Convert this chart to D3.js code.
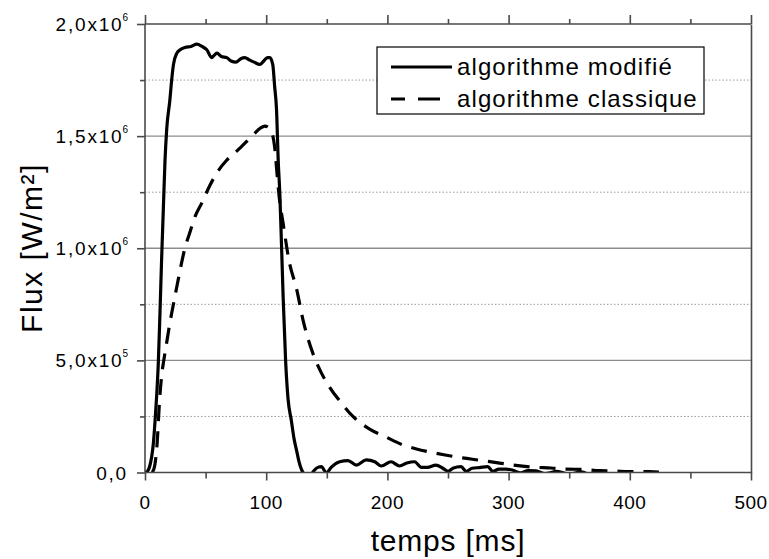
<!DOCTYPE html>
<html><head><meta charset="utf-8">
<script src="https://cdn.jsdelivr.net/npm/d3@7"></script>
<style>body{margin:0;background:#fff}svg{display:block}text{font-family:"Liberation Sans",Arial,sans-serif;fill:#000}</style>
</head><body>
<svg id="c" width="769" height="559"></svg>
<script>
// ---- data ----
const modifieT = [0,2,4,5.5,6.9,8.3,9.6,11,12.4,13.7,15.1,16.5,17.9,20.5,22,23.5,26.3,29,33,38,42.8,47,51,55,57,59.3,63,67.5,71,75,79,82.4,86,90,94.7,98,101,103,105.4,107,108.5,110,111.2,112.6,114,116,118,120.8,123,125,127,129,131,133,136,138,141.4,145.5,149.7,153.8,160.6,167.5,174.4,182.6,189.5,195,203,210,216,222.4,228,233,240,245.7,250,254,260.8,265,270,276,282.8,287,292,298,303,310,316,322.6,330,340,350,360,370,380,420];
const modifieV = [0,5e3,3e4,7e4,1.3e5,2.3e5,3.4e5,4.9e5,7.2e5,9.5e5,1.17e6,1.39e6,1.53e6,1.66e6,1.75e6,1.82e6,1.87e6,1.885e6,1.895e6,1.9e6,1.91e6,1.9e6,1.885e6,1.85e6,1.86e6,1.87e6,1.855e6,1.85e6,1.835e6,1.83e6,1.845e6,1.85e6,1.84e6,1.83e6,1.82e6,1.835e6,1.85e6,1.85e6,1.82e6,1.72e6,1.62e6,1.38e6,1.25e6,1.02e6,7.8e5,5e5,3.3e5,2.3e5,1.5e5,1e5,5e4,1.5e4,-5e3,-1.5e4,-1.5e4,-2e3,1.9e4,2.6e4,-2e3,2.4e4,4.8e4,5.3e4,3.3e4,5.6e4,4.8e4,2.9e4,4.8e4,2.9e4,4.2e4,4.8e4,2.3e4,2.3e4,3.3e4,1.9e4,5e3,1.9e4,2.6e4,5e3,1.9e4,2.2e4,2.6e4,5e3,1.5e4,1.5e4,1.1e4,-2e3,8e3,7e3,-5e3,5e3,-8e3,3e3,-1.5e4,-1.5e4,-1.5e4];
const classiqueT = [6,8,10,12,13.7,15.5,17.9,20,22,24.7,27.4,30,32.9,37,41.2,46.7,53.5,60.4,67,74,79,83.7,90,95,98.8,101.5,104.4,107,108.5,110.5,114,119,125,130.4,138.6,145,152.4,162,171.6,185,199,212,224,236,250,262,276,290,303,320,335,348,361,375,386,400,416,424];
const classiqueV = [0,3e4,1.3e5,3.2e5,4.3e5,5e5,5.8e5,6.5e5,7.1e5,7.85e5,8.6e5,9.3e5,1.0e6,1.07e6,1.14e6,1.2e6,1.28e6,1.345e6,1.39e6,1.425e6,1.45e6,1.475e6,1.51e6,1.535e6,1.545e6,1.54e6,1.52e6,1.45e6,1.36e6,1.24e6,1.11e6,9.4e5,8.2e5,6.8e5,5.3e5,4.5e5,3.8e5,3.1e5,2.5e5,1.95e5,1.58e5,1.25e5,1.05e5,9e4,7.6e4,6.5e4,5.5e4,4.4e4,3.4e4,2.4e4,2.0e4,1.5e4,1.4e4,8e3,7e3,4e3,3.6e3,2e3];
const seriesNames = ["algorithme modifié","algorithme classique"];
const xTicks = [0,100,200,300,400,500];
const xTickLabels = ["0","100","200","300","400","500"];
const yTicks = [0,5e5,1e6,1.5e6,2e6];
const yTickMain = ["0,0","5,0x10","1,0x10","1,5x10","2,0x10"];
const yTickExp = ["","5","6","6","6"];
const yMinor = [2.5e5,7.5e5,1.25e6,1.75e6];
const xMinor = [50,150,250,350,450];
const xTitle = "temps [ms]";
const yTitle = "Flux [W/m²]";

// ---- layout ----
const L=145,R=751,T=24,B=472.5;
const x=d3.scaleLinear().domain([0,500]).range([L,R]);
const y=d3.scaleLinear().domain([0,2e6]).range([B,T]);
const svg=d3.select("#c");
const axCol="#4a4a4a";

// gridlines
svg.append("g").selectAll("line").data(yMinor).join("line")
  .attr("x1",L).attr("x2",R).attr("y1",d=>y(d)).attr("y2",d=>y(d))
  .attr("stroke","#9a9a9a").attr("stroke-width",1).attr("stroke-dasharray","1.5,2");
svg.append("g").selectAll("line").data(yTicks.slice(1,-1)).join("line")
  .attr("x1",L).attr("x2",R).attr("y1",d=>y(d)).attr("y2",d=>y(d))
  .attr("stroke","#8c8c8c").attr("stroke-width",1.3);

// clip
svg.append("clipPath").attr("id","pc").append("rect").attr("x",L).attr("y",T).attr("width",R-L).attr("height",B-T);

const line=d3.line().x(d=>x(d[0])).y(d=>y(d[1])).curve(d3.curveMonotoneX);
const dataM=modifieT.map((t,i)=>[t,modifieV[i]]);
const dataC=classiqueT.map((t,i)=>[t,classiqueV[i]]);
const g=svg.append("g").attr("clip-path","url(#pc)");
g.append("path").attr("d",line(dataC)).attr("fill","none").attr("stroke","#000").attr("stroke-width",3.2).attr("stroke-dasharray","16,10");
g.append("path").attr("d",line(dataM)).attr("fill","none").attr("stroke","#000").attr("stroke-width",3.2).attr("stroke-linejoin","round");

// axes
const axL=svg.append("g").attr("transform",`translate(${L},0)`)
  .call(d3.axisLeft(y).tickValues(yTicks).tickSize(8).tickFormat(""));
const axLm=svg.append("g").attr("transform",`translate(${L},0)`)
  .call(d3.axisLeft(y).tickValues(yMinor).tickSize(5).tickFormat(""));
const axB=svg.append("g").attr("transform",`translate(0,${B})`)
  .call(d3.axisBottom(x).tickValues(xTicks).tickSize(8).tickFormat(""));
const axBm=svg.append("g").attr("transform",`translate(0,${B})`)
  .call(d3.axisBottom(x).tickValues(xMinor).tickSize(6).tickFormat(""));
const axT=svg.append("g").attr("transform",`translate(0,${T})`)
  .call(d3.axisTop(x).tickValues(xTicks).tickSize(9).tickFormat(""));
const axTm=svg.append("g").attr("transform",`translate(0,${T})`)
  .call(d3.axisTop(x).tickValues(xMinor).tickSize(5).tickFormat(""));
const axR=svg.append("g").attr("transform",`translate(${R},0)`)
  .call(d3.axisRight(y).tickValues([]).tickSizeOuter(0));
[axL,axLm,axB,axBm,axT,axTm,axR].forEach(a=>{
  a.selectAll("path.domain").attr("stroke",axCol).attr("stroke-width",1.6);
  a.selectAll("line").attr("stroke",axCol).attr("stroke-width",1.6);
});
[axLm,axBm,axTm].forEach(a=>a.select("path.domain").remove());
[axL,axB,axT].forEach(a=>a.selectAll("path.domain").attr("d",a===axL?`M0,${T}V${B}`:`M${L},0H${R}`));

// tick labels
svg.append("g").selectAll("text").data(xTicks).join("text")
  .attr("x",d=>x(d)).attr("y",509).attr("text-anchor","middle").attr("font-size",19).attr("letter-spacing",0.5)
  .text((d,i)=>xTickLabels[i]);
const yl=svg.append("g").selectAll("text").data(yTicks).join("text")
  .attr("x",128).attr("y",d=>y(d)+7).attr("text-anchor","end").attr("font-size",19).attr("letter-spacing",1.8);
yl.append("tspan").text((d,i)=>yTickMain[i]);
yl.append("tspan").attr("font-size",10).attr("letter-spacing",0).attr("dx",-1).attr("dy",-10).text((d,i)=>yTickExp[i]);

// titles
svg.append("text").attr("x",448).attr("y",551).attr("text-anchor","middle").attr("font-size",30).attr("letter-spacing",0.8).text(xTitle);
svg.append("text").attr("transform","translate(42,248) rotate(-90)").attr("text-anchor","middle").attr("font-size",30).attr("letter-spacing",1.5).text(yTitle);

// legend
const lg=svg.append("g");
lg.append("rect").attr("x",377).attr("y",47).attr("width",327).attr("height",67).attr("fill","#fff").attr("stroke","#000").attr("stroke-width",1.2);
lg.append("line").attr("x1",391).attr("x2",452).attr("y1",67).attr("y2",67).attr("stroke","#000").attr("stroke-width",3.2);
lg.append("line").attr("x1",391).attr("x2",440).attr("y1",99).attr("y2",99).attr("stroke","#000").attr("stroke-width",3.2).attr("stroke-dasharray","14,13,22");
lg.selectAll("text").data(seriesNames).join("text")
  .attr("x",457).attr("y",(d,i)=>75+i*32).attr("font-size",24).attr("letter-spacing",1.1).text(d=>d);
</script>
</body></html>
